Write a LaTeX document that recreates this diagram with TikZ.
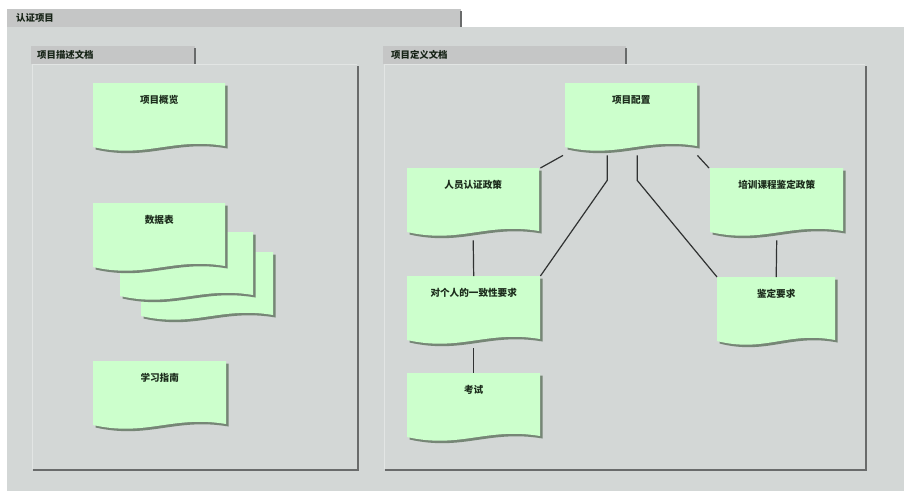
\documentclass[tikz,border=0pt]{standalone}
\usepackage{fontspec}
\newfontfamily\cjk{Noto Sans CJK SC}
\usetikzlibrary{calc}
\definecolor{bgc}{RGB}{211,215,214}
\definecolor{tabc}{RGB}{197,198,198}
\definecolor{edgec}{RGB}{105,107,107}
\definecolor{lightedge}{RGB}{226,229,228}
\definecolor{docc}{RGB}{204,255,204}
\definecolor{docsh}{RGB}{118,134,118}
\definecolor{txtc}{RGB}{28,44,28}
\definecolor{linec}{RGB}{48,50,50}
\newcommand\docshape[4]{% x, y, w, options
  \path[#4] (#1,#2) -- ++(#3,0) -- ++(0,63)
    .. controls +(-0.4*#3,-9) and +(0.4*#3,12) .. ++(-#3,1) -- cycle;
}
\newcommand\docitem[6]{% name, x, y, w, text, unused
  \docshape{#2}{#3}{#4}{fill=docsh, shift={(2.5,2.5)}}
  \docshape{#2}{#3}{#4}{fill=docc}
  \node[doctext, minimum width=#4pt] (#1) at (#2,#3) {#5};
}
\begin{document}
\begin{tikzpicture}[x=1pt,y=-1pt,
  doctext/.style={anchor=north west, inner sep=0pt, text height=20pt, text depth=52pt,
    font=\cjk\bfseries\fontsize{9.6}{11}\selectfont, text=txtc, align=center},
  tablabel/.style={anchor=west, inner sep=0pt, font=\cjk\bfseries\fontsize{9.4}{11}\selectfont, text=txtc!80!black},
  conn/.style={draw=linec, line width=1.2pt},
  darkedge/.style={draw=edgec, line width=2pt},
]
\useasboundingbox (0,0) rectangle (904,491);
\fill[white] (0,0) rectangle (904,491);
% outer frame
\fill[tabc] (7,9) rectangle (461,27);
\draw[darkedge] (460.5,11) -- (460.5,27);
\fill[bgc] (7,27) rectangle (904,491);
\node[tablabel] (tOuter) at (16,18) {认证项目};
% left panel
\fill[tabc] (31,46) rectangle (195,64);
\draw[darkedge] (194.5,48) -- (194.5,64);
\draw[draw=lightedge, line width=0.8pt] (32,469) -- (32,64) -- (357,64);
\draw[darkedge] (357.5,66) -- (357.5,469.5) -- (33,469.5);
\node[tablabel] (tLeft) at (37,55) {项目描述文档};
% right panel
\fill[tabc] (383,46) rectangle (626,64);
\draw[darkedge] (625.5,48) -- (625.5,64);
\draw[draw=lightedge, line width=0.8pt] (384,469) -- (384,64) -- (865,64);
\draw[darkedge] (865.5,66) -- (865.5,469.5) -- (385,469.5);
\node[tablabel] (tRight) at (391,55) {项目定义文档};
% left documents
\docitem{gl}{93}{83}{132}{项目概览}{}
\docitem{sj3}{141}{252}{132}{}{}
\docitem{sj2}{120}{232}{133}{}{}
\docitem{sj}{93}{203}{132}{数据表}{}
\docitem{xx}{93}{361}{133}{学习指南}{}
% right documents
\docitem{pz}{565}{83}{132}{项目配置}{}
\docitem{ry}{407}{168}{132}{人员认证政策}{}
\docitem{px}{710}{168}{133}{培训课程鉴定政策}{}
\docitem{dg}{407}{276}{133}{对个人的一致性要求}{}
\docitem{jd}{717}{277}{118}{鉴定要求}{}
\docitem{ks}{407}{373}{133}{考试}{}
% connectors
\draw[conn] ($(pz.south west)+(-2,0)$) -- ($(ry.north east)+(1,0)$);
\draw[conn] ($(pz.south east)+(0,0)$) -- ($(px.north west)+(-1,0)$);
\draw[conn] ($(pz.south)+(-24,0)$) -- ++(0,25) -- ($(dg.north east)$);
\draw[conn] ($(pz.south)+(6,0)$) -- ++(0,25) -- ($(jd.north west)$);
\draw[conn] (ry.south) -- (dg.north);
\draw[conn] (px.south) -- (jd.north);
\draw[conn] (dg.south) -- (ks.north);
\end{tikzpicture}
\end{document}
